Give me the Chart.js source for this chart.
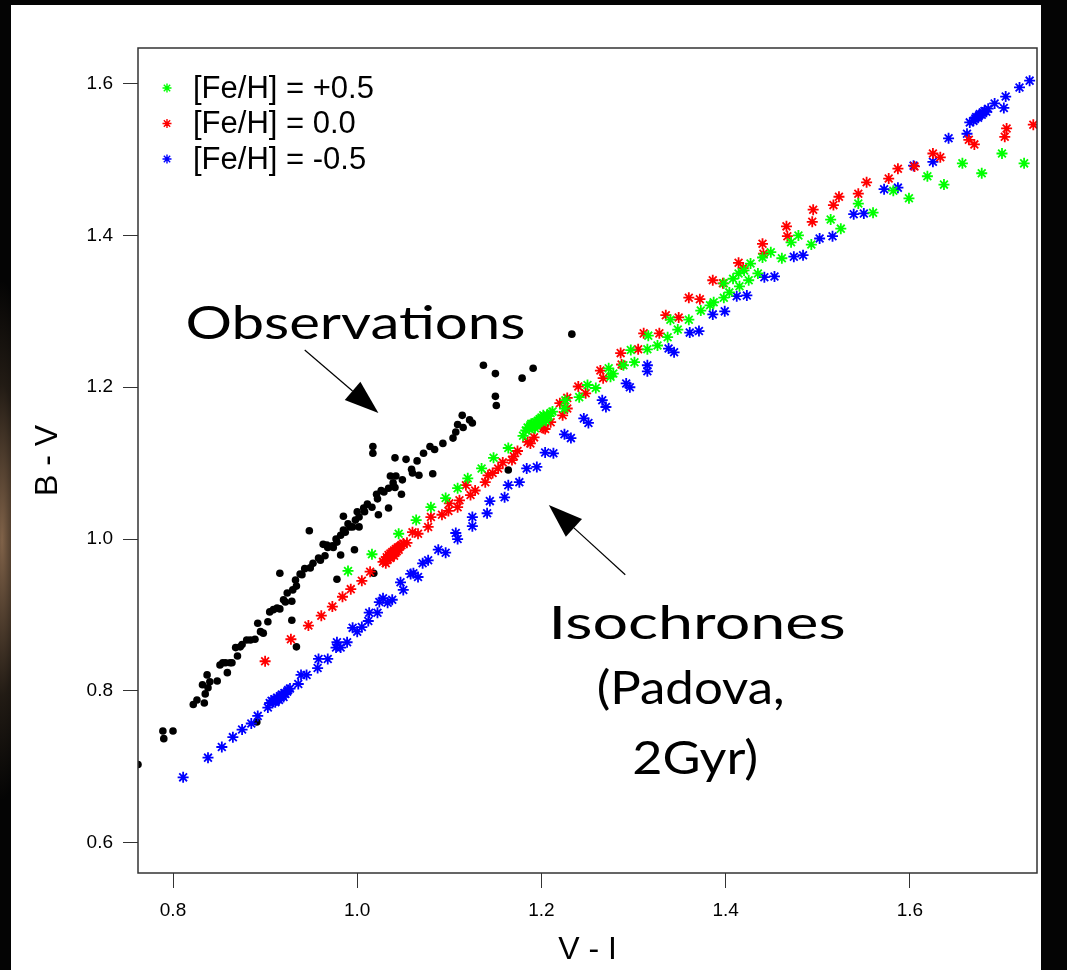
<!DOCTYPE html>
<html>
<head>
<meta charset="utf-8">
<script src="https://cdn.jsdelivr.net/npm/chart.js@4/dist/chart.umd.min.js"></script>
<style>
  html, body { margin: 0; padding: 0; }
  body {
    width: 1067px; height: 970px; overflow: hidden; background: #040404;
    background-image: radial-gradient(ellipse 30px 260px at 2px 540px, rgba(150,115,85,0.85), rgba(70,55,40,0.45) 60%, rgba(0,0,0,0) 100%);
  }
  #panel { position: absolute; left: 11px; top: 5px; width: 1030px; height: 965px; background: #fff; }
  #c { position: absolute; left: 0; top: 0; }
</style>
</head>
<body>
<div id="panel"></div>
<canvas id="c" width="1067" height="970"></canvas>
<script>
// observed cluster stars, [V-I, B-V]
const obsPoints = [
  [0.762,0.703],[0.789,0.747],[0.800,0.747],[0.790,0.737],[0.822,0.782],[0.826,0.788],[0.834,0.784],[0.835,0.796],
  [0.832,0.808],[0.837,0.821],[0.840,0.812],[0.848,0.813],[0.838,0.804],[0.851,0.834],[0.854,0.837],[0.862,0.837],
  [0.859,0.824],[0.868,0.857],[0.873,0.858],[0.870,0.846],[0.880,0.867],[0.889,0.868],[0.892,0.889],[0.903,0.891],
  [0.898,0.876],[0.895,0.878],[0.909,0.907],[0.916,0.908],[0.922,0.917],[0.929,0.918],[0.924,0.929],[0.930,0.933],
  [0.934,0.938],[0.933,0.946],[0.938,0.954],[0.943,0.961],[0.949,0.962],[0.952,0.968],[0.958,0.975],[0.916,0.955],
  [0.929,0.893],[0.934,0.858],[0.891,0.759],[0.963,0.993],[0.967,0.992],[0.973,0.991],[0.977,1.000],[0.982,1.005],
  [0.985,1.012],[0.992,1.016],[0.990,1.020],[0.985,1.030],[0.982,0.979],[0.997,0.986],[0.978,0.947],[0.948,1.011],
  [1.000,1.036],[1.002,1.029],[1.007,1.041],[1.011,1.046],[1.016,1.042],[1.021,1.059],[1.022,1.053],[1.023,1.032],
  [1.029,1.062],[1.034,1.067],[1.034,1.041],[1.039,1.074],[1.041,1.068],[1.036,1.083],[1.042,1.083],[1.049,1.078],
  [1.048,1.059],[1.059,1.092],[1.060,1.087],[1.067,1.084],[1.082,1.086],[1.041,1.107],[1.053,1.105],[1.065,1.103],
  [1.072,1.113],[1.079,1.122],[1.084,1.118],[1.093,1.126],[1.104,1.133],[1.107,1.141],[1.109,1.151],[1.115,1.147],
  [1.114,1.163],[1.122,1.157],[1.125,1.153],[1.017,1.122],[1.017,1.113],[1.018,0.955],[1.150,1.188],[1.151,1.176],
  [1.137,1.229],[1.150,1.218],[1.179,1.212],[1.191,1.225],[1.164,1.091],[1.233,1.270],[0.974,0.989],[0.987,1.009],
  [0.995,1.016],[0.998,1.025],[0.960,0.972],[0.940,0.953],[0.884,0.867],[0.875,0.861],[0.864,0.837],[0.857,0.837],
  [1.026,1.064],[1.008,1.036],[0.905,0.904],[0.913,0.909],[0.920,0.920],[1.002,1.016],[0.978,0.996],[0.965,0.978],
  [0.968,0.989]
];

// Padova isochrones, [Fe/H] = +0.5
const feHighPoints = [
  [0.990,0.958],[1.016,0.980],[1.045,1.007],[1.064,1.025],[1.080,1.042],[1.096,1.054],[1.109,1.067],[1.120,1.080],
  [1.135,1.093],[1.148,1.107],[1.164,1.120],[1.180,1.136],
  [1.183,1.143],[1.185,1.147],[1.187,1.145],[1.188,1.150],[1.190,1.148],[1.191,1.152],[1.192,1.149],[1.194,1.154],
  [1.195,1.151],[1.196,1.156],[1.197,1.153],[1.198,1.158],[1.199,1.155],[1.200,1.160],[1.201,1.157],[1.203,1.161],
  [1.204,1.159],[1.206,1.163],[1.208,1.162],[1.210,1.166],[1.212,1.168],[1.189,1.152],[1.193,1.146],[1.202,1.163],
  [1.205,1.156],
  [1.225,1.172],[1.226,1.183],[1.241,1.187],[1.250,1.203],[1.259,1.199],[1.273,1.225],[1.275,1.214],[1.278,1.218],
  [1.289,1.229],[1.297,1.249],[1.301,1.233],[1.315,1.250],[1.316,1.268],[1.326,1.255],[1.337,1.266],[1.340,1.289],
  [1.348,1.276],[1.360,1.289],[1.373,1.301],[1.383,1.308],[1.387,1.312],[1.398,1.318],[1.404,1.325],[1.398,1.337],
  [1.408,1.343],[1.415,1.333],[1.414,1.350],[1.420,1.354],[1.425,1.341],[1.427,1.363],[1.435,1.350],[1.440,1.371],
  [1.449,1.378],[1.461,1.370],[1.471,1.391],[1.479,1.400],[1.493,1.388],[1.514,1.421],[1.525,1.409],[1.544,1.442],
  [1.560,1.430],[1.582,1.459],[1.599,1.449],[1.619,1.478],[1.637,1.467],[1.657,1.495],[1.678,1.482],[1.700,1.508],
  [1.724,1.495]
];

// [Fe/H] = 0.0
const feSolarPoints = [
  [0.900,0.839],[0.928,0.868],[0.947,0.886],[0.961,0.899],[0.973,0.911],[0.984,0.924],[0.993,0.934],[1.005,0.945],
  [1.014,0.957],[1.028,0.970],
  [1.030,0.972],[1.032,0.976],[1.033,0.973],[1.034,0.979],[1.035,0.976],[1.036,0.981],[1.037,0.978],[1.038,0.983],
  [1.039,0.980],[1.040,0.985],[1.041,0.982],[1.042,0.987],[1.043,0.984],[1.044,0.989],[1.045,0.986],[1.046,0.990],
  [1.048,0.992],[1.050,0.994],[1.036,0.975],[1.040,0.978],[1.031,0.968],
  [1.054,0.995],[1.060,1.009],[1.066,1.007],[1.077,1.016],[1.080,1.029],[1.092,1.032],[1.099,1.037],[1.100,1.047],
  [1.109,1.042],[1.111,1.051],[1.118,1.071],[1.123,1.058],[1.128,1.064],[1.139,1.075],[1.142,1.084],[1.147,1.087],
  [1.153,1.093],[1.158,1.101],[1.168,1.104],[1.170,1.109],[1.174,1.116],[1.185,1.128],[1.188,1.126],[1.192,1.134],
  [1.202,1.146],[1.204,1.145],[1.210,1.154],[1.220,1.179],[1.223,1.163],[1.228,1.186],[1.228,1.172],[1.240,1.201],
  [1.248,1.192],[1.264,1.222],[1.267,1.212],[1.286,1.245],[1.287,1.230],[1.305,1.250],[1.311,1.271],[1.328,1.271],
  [1.335,1.295],[1.349,1.292],[1.360,1.318],[1.372,1.316],[1.386,1.341],[1.397,1.337],[1.414,1.364],[1.419,1.357],
  [1.440,1.389],[1.441,1.376],[1.466,1.412],[1.467,1.399],[1.495,1.434],[1.494,1.418],[1.517,1.440],[1.523,1.451],
  [1.544,1.455],[1.553,1.470],[1.577,1.475],[1.587,1.488],[1.605,1.491],[1.625,1.508],[1.633,1.503],[1.664,1.526],
  [1.670,1.520],[1.703,1.530],[1.705,1.541],[1.734,1.546]
];

// [Fe/H] = -0.5
const feLowPoints = [
  [0.811,0.686],[0.838,0.712],[0.853,0.726],[0.865,0.739],[0.875,0.749],[0.885,0.757],[0.892,0.767],[0.903,0.778],
  [0.905,0.784],[0.907,0.787],[0.909,0.786],[0.910,0.789],[0.912,0.788],[0.913,0.791],[0.914,0.790],[0.916,0.793],
  [0.917,0.792],[0.918,0.795],[0.919,0.794],[0.921,0.797],[0.922,0.796],[0.924,0.799],[0.925,0.801],[0.927,0.803],
  [0.911,0.785],[0.915,0.788],[0.920,0.792],
  [0.936,0.809],[0.939,0.821],[0.945,0.821],[0.957,0.830],[0.958,0.842],[0.968,0.842],[0.977,0.857],[0.978,0.864],
  [0.989,0.864],[0.982,0.857],[0.995,0.883],[1.000,0.878],[1.005,0.884],[1.012,0.892],[1.013,0.903],[1.022,0.903],
  [1.024,0.917],[1.028,0.922],[1.033,0.916],[1.038,0.920],[1.047,0.943],[1.050,0.933],[1.058,0.954],[1.061,0.955],
  [1.066,0.950],[1.071,0.968],[1.077,0.972],[1.088,0.986],[1.096,0.982],[1.107,1.008],[1.109,1.000],[1.125,1.029],
  [1.125,1.017],[1.141,1.034],[1.144,1.050],[1.160,1.055],[1.164,1.071],[1.176,1.075],[1.184,1.093],[1.195,1.095],
  [1.204,1.114],[1.213,1.113],[1.225,1.138],[1.232,1.133],[1.246,1.159],[1.251,1.153],[1.266,1.183],[1.270,1.174],
  [1.292,1.205],[1.296,1.200],[1.315,1.229],[1.315,1.221],[1.338,1.251],[1.344,1.246],[1.361,1.272],[1.371,1.274],
  [1.386,1.296],[1.399,1.300],[1.412,1.320],[1.423,1.321],[1.442,1.345],[1.453,1.346],[1.474,1.372],[1.484,1.374],
  [1.502,1.396],[1.516,1.399],[1.539,1.428],[1.550,1.429],[1.572,1.461],[1.587,1.463],[1.604,1.492],[1.625,1.497],
  [1.642,1.528],[1.662,1.534],[1.665,1.549],
  [1.669,1.551],[1.671,1.554],[1.672,1.556],[1.674,1.555],[1.675,1.558],[1.676,1.560],[1.678,1.559],[1.679,1.562],
  [1.681,1.564],[1.683,1.563],[1.685,1.567],
  [1.692,1.574],[1.702,1.568],[1.704,1.583],[1.719,1.595],[1.730,1.604]
];

const seriesLabels = ['[Fe/H] = +0.5', '[Fe/H] = 0.0', '[Fe/H] = -0.5'];
const xTicks = [0.8, 1.0, 1.2, 1.4, 1.6];
const yTicks = [0.6, 0.8, 1.0, 1.2, 1.4, 1.6];

// hand-written notes on the plot, placed in data units
const notes = [
  { text: 'Observations', x: 0.998, y: 1.283, w: 340 },
  { text: 'Isochrones', x: 1.369, y: 0.888, w: 297 },
  { text: '(Padova,', x: 1.362, y: 0.802, w: 188 },
  { text: '2Gyr)', x: 1.367, y: 0.710, w: 126 }
];
const arrows = [
  { from: [0.943, 1.249], to: [1.023, 1.166] },
  { from: [1.291, 0.953], to: [1.208, 1.045] }
];

const toXY = arr => arr.map(p => ({ x: p[0], y: p[1] }));
const tickFont = { family: 'Liberation Sans, Arial, sans-serif', size: 19 };
const titleFont = { family: 'Liberation Sans, Arial, sans-serif', size: 32 };

const frameAndNotes = {
  id: 'frameAndNotes',
  afterDraw(chart) {
    const { ctx, chartArea: a, scales } = chart;
    const sx = scales.x, sy = scales.y;
    ctx.save();
    // plot box
    ctx.strokeStyle = '#333';
    ctx.lineWidth = 1.5;
    ctx.strokeRect(a.left, a.top, a.right - a.left, a.bottom - a.top);

    // legend in the top-left corner
    const colors = ['#00ff00', '#ff0000', '#0000ff'];
    seriesLabels.forEach((lab, i) => {
      const y = a.top + 40 + i * 35.5;
      ctx.strokeStyle = colors[i];
      ctx.lineWidth = 1.4;
      Chart.helpers.drawPoint(ctx, { pointStyle: 'star', radius: 4.5, rotation: 0, borderWidth: 1.4 }, a.left + 29, y);
      ctx.fillStyle = '#000';
      ctx.font = '31px "Liberation Sans", Arial, sans-serif';
      ctx.textBaseline = 'middle';
      ctx.textAlign = 'left';
      ctx.fillText(lab, a.left + 55, y + 1);
    });

    // notes
    ctx.fillStyle = '#000';
    ctx.textAlign = 'center';
    ctx.textBaseline = 'middle';
    ctx.font = '46px Lato, "Open Sans", sans-serif';
    notes.forEach(n => {
      const px = sx.getPixelForValue(n.x), py = sy.getPixelForValue(n.y);
      const k = n.w / ctx.measureText(n.text).width;
      ctx.save();
      ctx.translate(px, py);
      ctx.scale(k, 1);
      ctx.fillText(n.text, 0, 0);
      ctx.restore();
    });

    // arrows
    arrows.forEach(ar => {
      const x0 = sx.getPixelForValue(ar.from[0]), y0 = sy.getPixelForValue(ar.from[1]);
      const x1 = sx.getPixelForValue(ar.to[0]), y1 = sy.getPixelForValue(ar.to[1]);
      const ang = Math.atan2(y1 - y0, x1 - x0);
      const hl = 34, hw = 12;
      const bx = x1 - hl * Math.cos(ang), by = y1 - hl * Math.sin(ang);
      ctx.strokeStyle = '#000';
      ctx.lineWidth = 1.2;
      ctx.beginPath();
      ctx.moveTo(x0, y0);
      ctx.lineTo(bx, by);
      ctx.stroke();
      ctx.beginPath();
      ctx.moveTo(x1, y1);
      ctx.lineTo(bx + hw * Math.sin(ang), by - hw * Math.cos(ang));
      ctx.lineTo(bx - hw * Math.sin(ang), by + hw * Math.cos(ang));
      ctx.closePath();
      ctx.fillStyle = '#000';
      ctx.fill();
    });
    ctx.restore();
  }
};

const starSet = (label, pts, color, order) => ({
  label, data: toXY(pts), order,
  pointStyle: 'star', pointRadius: 5.5, pointBorderWidth: 1.8,
  borderColor: color, backgroundColor: color, showLine: false
});

new Chart(document.getElementById('c'), {
  type: 'scatter',
  data: {
    datasets: [
      starSet(seriesLabels[0], feHighPoints, '#00ff00', 1),
      starSet(seriesLabels[1], feSolarPoints, '#ff0000', 2),
      starSet(seriesLabels[2], feLowPoints, '#0000ff', 3),
      {
        label: 'Observations', data: toXY(obsPoints), order: 4,
        pointStyle: 'circle', pointRadius: 3.8, pointBorderWidth: 0,
        backgroundColor: '#000', borderColor: '#000'
      }
    ]
  },
  options: {
    responsive: false,
    animation: false,
    devicePixelRatio: 1,
    layout: { padding: { left: 0, top: 48, right: 30, bottom: 0 } },
    plugins: { legend: { display: false }, tooltip: { enabled: false } },
    scales: {
      x: {
        type: 'linear', min: 0.762, max: 1.738,
        afterBuildTicks: s => { s.ticks = xTicks.map(v => ({ value: v })); },
        afterFit: s => { s.height = 97; },
        grid: { drawOnChartArea: false, drawTicks: true, tickLength: 15, color: '#333', lineWidth: 1 },
        border: { display: false },
        ticks: { color: '#000', font: tickFont, padding: 11, maxRotation: 0, autoSkip: false,
                 callback: v => v.toFixed(1) },
        title: { display: true, text: 'V - I', color: '#000', font: titleFont, padding: { top: 0, bottom: 1 } }
      },
      y: {
        type: 'linear', min: 0.56, max: 1.647,
        afterBuildTicks: s => { s.ticks = yTicks.map(v => ({ value: v })); },
        afterFit: s => { s.width = 138; },
        grid: { drawOnChartArea: false, drawTicks: true, tickLength: 15, color: '#333', lineWidth: 1 },
        border: { display: false },
        ticks: { color: '#000', font: tickFont, padding: 10, autoSkip: false,
                 callback: v => v.toFixed(1) },
        title: { display: true, text: 'B - V', color: '#000', font: titleFont, padding: { top: 29, bottom: 0 } }
      }
    }
  },
  plugins: [frameAndNotes]
});
</script>
</body>
</html>
